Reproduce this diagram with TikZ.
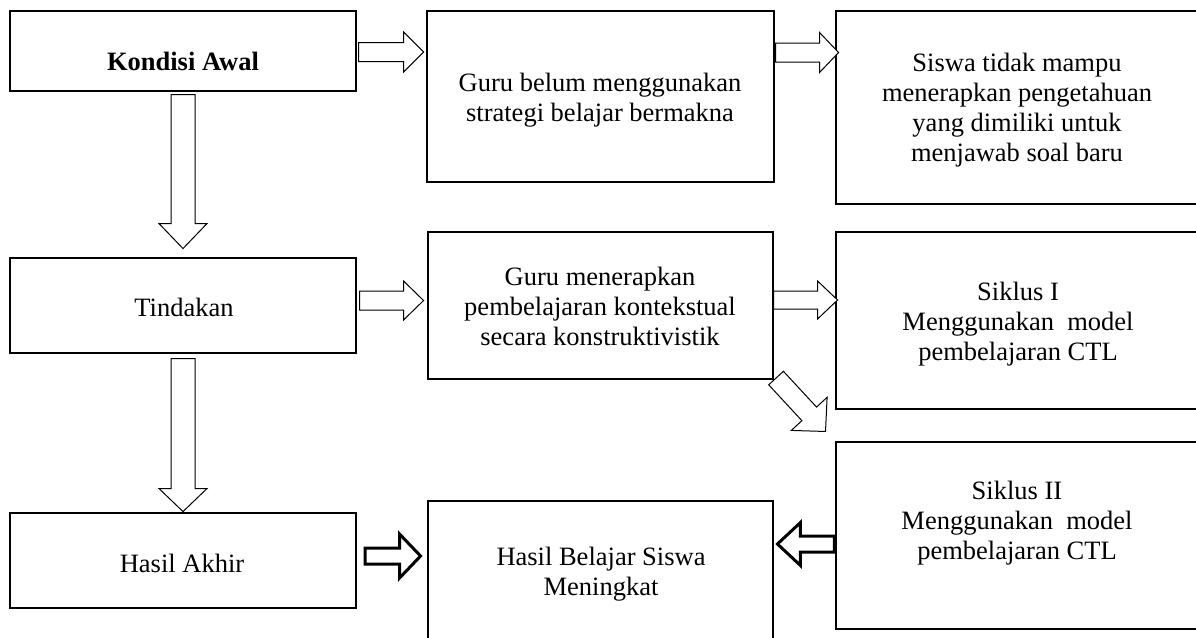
\documentclass[tikz,border=0pt]{standalone}
\usepackage{fontspec}
\setmainfont{Liberation Serif}
\usetikzlibrary{calc}
\tikzset{
  box/.style={draw=black, line width=1.1pt, rectangle, inner sep=0pt},
  txt/.style={align=center, inner sep=0pt, font=\fontsize{26.5}{30}\selectfont},
  thinarrow/.style={draw=black, fill=white, line width=1pt, line join=miter},
  thickarrow/.style={draw=black, fill=white, line width=3pt, line join=miter},
  pics/barrow/.style args={#1/#2/#3/#4}{code={
    \path[pic actions] (0,-#2) -- (#1-#4,-#2) -- (#1-#4,-#3) -- (#1,0) -- (#1-#4,#3) -- (#1-#4,#2) -- (0,#2) -- cycle;
  }}
}
\begin{document}
\begin{tikzpicture}[x=1pt,y=-1pt]
\useasboundingbox (0,0) rectangle (1196,637);
\clip (0,0) rectangle (1196,637);
% boxes
\node[box, minimum width=346, minimum height=80]  (A) at (183,51) {};
\node[box, minimum width=347, minimum height=171] (B) at (600.5,96.5) {};
\node[box, minimum width=368, minimum height=193] (C) at (1020,107.5) {};
\node[box, minimum width=346, minimum height=95]  (T) at (183,305.5) {};
\node[box, minimum width=345, minimum height=147] (D) at (600.5,305.5) {};
\node[box, minimum width=368, minimum height=177] (E) at (1020,320.5) {};
\node[box, minimum width=346, minimum height=95]  (H) at (183,560.5) {};
\node[box, minimum width=345, minimum height=150] (G) at (600.5,576) {};
\node[box, minimum width=368, minimum height=187] (F) at (1020,535.5) {};
% texts
\node[txt] (At) at (183,64) {\strut\textbf{Kondisi Awal}};
\node[txt] (Bt) at (600,100.5) {\strut Guru belum menggunakan\\\strut strategi belajar bermakna};
\node[txt] (Ct) at (1017,110) {\strut Siswa tidak mampu\\\strut menerapkan pengetahuan\\\strut yang dimiliki untuk\\\strut menjawab soal baru};
\node[txt] (Tt) at (184,310) {\strut Tindakan};
\node[txt] (Dt) at (600,309) {\strut Guru menerapkan\\\strut pembelajaran kontekstual\\\strut secara konstruktivistik};
\node[txt] (Et) at (1018,324) {\strut Siklus I\\\strut Menggunakan\ \ model\\\strut pembelajaran CTL};
\node[txt] (Ft) at (1017,523) {\strut Siklus II\\\strut Menggunakan\ \ model\\\strut pembelajaran CTL};
\node[txt] (Gt) at (601,574) {\strut Hasil Belajar Siswa\\\strut Meningkat};
\node[txt] (Ht) at (182,566) {\strut Hasil Akhir};
% block arrows
\pic[thinarrow] at ($(A.east)+(2,1)$) {barrow=65/9.5/20/20};
\pic[thinarrow] at ($(B.east)+(1,-44)$) {barrow=63/9.5/20/19};
\pic[thinarrow, rotate=-90] at ($(A.south)+(0,3)$) {barrow=154/12/24/25};
\pic[thinarrow] at ($(T.east)+(3,-5)$) {barrow=64/9.5/19.5/20};
\pic[thinarrow] at ($(D.east)+(0,-5.5)$) {barrow=64/9/19/20};
\pic[thinarrow, rotate=-47.2] at ($(D.south east)+(2.5,-1.5)$) {barrow=72.8/10/24.4/24};
\pic[thinarrow, rotate=-90] at ($(T.south)+(0,5)$) {barrow=153/12/24/23};
\pic[thickarrow] at ($(H.east)+(8.5,-4.5)$) {barrow=55.5/8/22/21};
\pic[thickarrow, rotate=180] at ($(F.west)+(-1,8.5)$) {barrow=57/8/21.5/23};
\end{tikzpicture}
\end{document}
